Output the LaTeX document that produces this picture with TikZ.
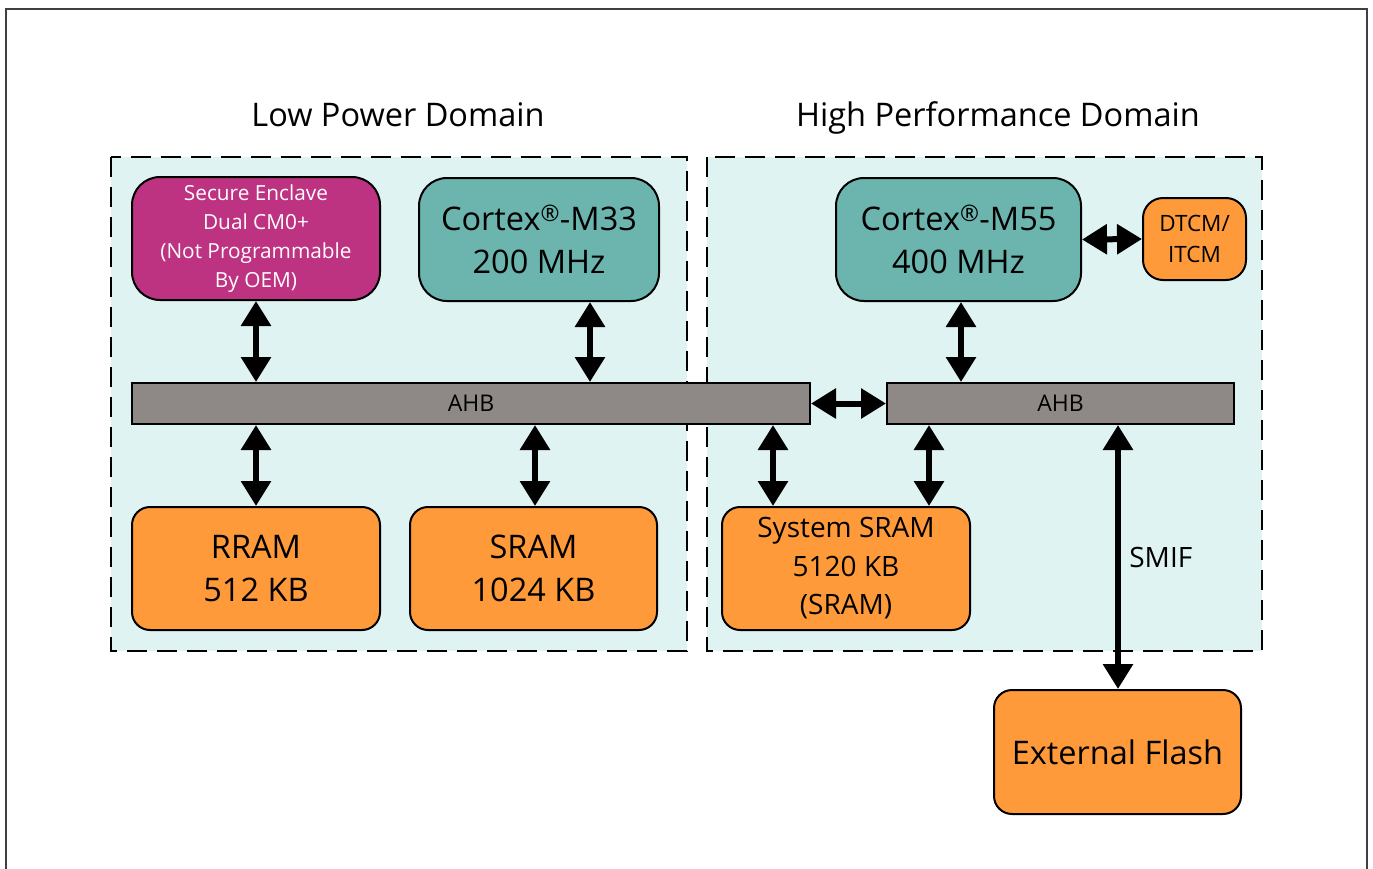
\documentclass[tikz,border=0pt]{standalone}
\usepackage{fontspec}
\setmainfont{Open Sans}
\usetikzlibrary{arrows.meta,calc}
\definecolor{dombg}{HTML}{DFF3F2}
\definecolor{magbox}{HTML}{BE3282}
\definecolor{tealbox}{HTML}{6BB5AE}
\definecolor{orgbox}{HTML}{FF9A3A}
\definecolor{busgray}{HTML}{8E8986}
\newcommand{\regmark}{\textsuperscript{®}}
\tikzset{
  dom/.style={draw=black, fill=dombg, line width=2.5pt, dash pattern=on 20pt off 10pt},
  blk/.style={draw=black, line width=2pt, rounded corners=28pt, align=center, inner sep=0pt},
  bus/.style={draw=black, fill=busgray, line width=2pt, inner sep=0pt, font=\fontsize{23}{26}\selectfont},
  arr/.style={line width=6pt, {Triangle[length=25pt,width=29pt]}-{Triangle[length=25pt,width=29pt]}},
  big/.style={font=\fontsize{32.5}{43}\selectfont},
  title/.style={font=\fontsize{32.5}{40}\selectfont, anchor=base, inner sep=0pt},
}
\begin{document}
\begin{tikzpicture}[x=1pt,y=-1pt]
\useasboundingbox (0,0) rectangle (1373,868);
% frame
\draw[line width=2pt, color=black!75] (6,880) -- (6,9) -- (1367,9) -- (1367,880);
% domains
\draw[dom] (111,157) rectangle (687,651);
\draw[dom] (707,157) rectangle (1262,651);
\node[title] (tlp) at (398,126) {Low Power Domain};
\node[title] (thp) at (998,126) {High Performance Domain};
% blocks
\node[blk, fill=magbox, text=white, minimum width=248pt, minimum height=123pt, font=\fontsize{20.8}{29}\selectfont] (sec) at (256,238.5) {Secure Enclave\\Dual CM0+\\(Not Programmable\\By OEM)};
\node[blk, fill=tealbox, big, minimum width=240pt, minimum height=123pt] (m33) at (539,239.5) {Cortex\regmark-M33\\200 MHz};
\node[blk, fill=tealbox, big, minimum width=245pt, minimum height=123pt] (m55) at (958.5,239.5) {Cortex\regmark-M55\\400 MHz};
\node[blk, fill=orgbox, rounded corners=20pt, minimum width=103pt, minimum height=82pt, font=\fontsize{22.5}{31}\selectfont] (tcm) at (1194.5,239) {DTCM/\\ITCM};
\node[bus, minimum width=678pt, minimum height=41pt] (ahbL) at (471,403.5) {AHB};
\node[bus, minimum width=347pt, minimum height=41pt] (ahbR) at (1060.5,403.5) {AHB};
\node[blk, fill=orgbox, big, minimum width=248pt, minimum height=123pt, rounded corners=18pt] (rram) at (256,568.5) {RRAM\\512 KB};
\node[blk, fill=orgbox, big, minimum width=247pt, minimum height=123pt, rounded corners=18pt] (sram) at (533.5,568.5) {SRAM\\1024 KB};
\node[blk, fill=orgbox, minimum width=248pt, minimum height=123pt, rounded corners=18pt, font=\fontsize{28}{38.5}\selectfont] (ssram) at (846,568.5) {System SRAM\\5120 KB\\(SRAM)};
\node[blk, fill=orgbox, big, minimum width=247pt, minimum height=124pt, rounded corners=18pt] (flash) at (1117.5,752) {External Flash};
% x positions
\coordinate (x590) at (590,0);
\coordinate (x773) at (773,0);
\coordinate (x929) at (929,0);
\coordinate (x961) at (961,0);
\coordinate (x1118) at (1118,0);
\coordinate (x535) at (535,0);
% connectors
\draw[arr] (sec.south) -- (sec.south |- ahbL.north);
\draw[arr] (m33.south -| x590) -- (ahbL.north -| x590);
\draw[arr] (m55.south -| x961) -- (ahbR.north -| x961);
\draw[arr] (m55.east) -- (tcm.west);
\draw[arr] (ahbL.east) -- (ahbR.west);
\draw[arr] (ahbL.south -| rram.north) -- (rram.north);
\draw[arr] (ahbL.south -| x535) -- (sram.north -| x535);
\draw[arr] (ahbL.south -| x773) -- (ssram.north -| x773);
\draw[arr] (ahbR.south -| x929) -- (ssram.north -| x929);
\draw[arr] (ahbR.south -| x1118) -- node[right=5pt, font=\fontsize{28}{32}\selectfont] (smif) {SMIF} (flash.north -| x1118);
\end{tikzpicture}
\end{document}
